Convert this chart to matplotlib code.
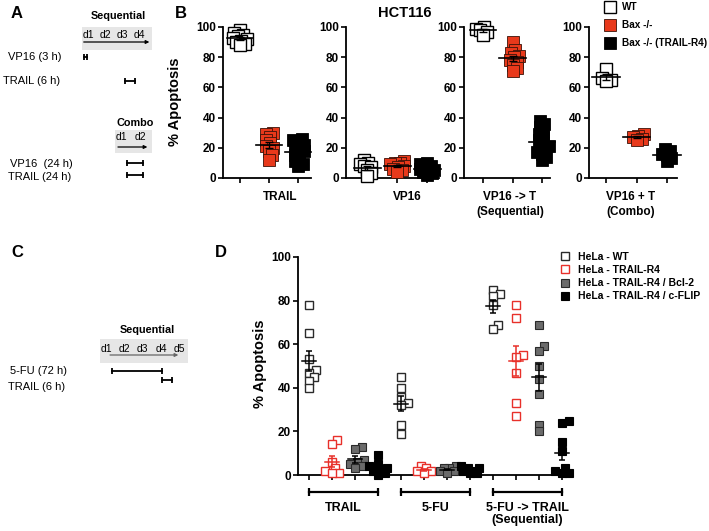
import numpy as np
import matplotlib
matplotlib.use('Agg')
import matplotlib.pyplot as plt
from matplotlib.patches import Rectangle
from matplotlib.lines import Line2D

plt.rcParams['font.family'] = ['Liberation Sans', 'DejaVu Sans']

# ---------------- data: panel B (HCT116) ----------------
b_conditions = ["TRAIL", "VP16", "VP16 -> T\n(Sequential)", "VP16 + T\n(Combo)"]
b_series = ["WT", "Bax -/-", "Bax -/- (TRAIL-R4)"]
b_wt = [[98, 96, 95, 94, 93, 92, 91, 90, 89, 88],
        [12, 10, 9, 8, 7, 5, 3, 1],
        [100, 99, 98, 97, 95],
        [72, 66, 65, 64]]
b_bax = [[30, 29, 27, 25, 23, 21, 20, 18, 15, 12],
         [11, 10, 10, 9, 8, 7, 6, 5, 4],
         [90, 85, 83, 81, 80, 78, 77, 75, 73, 71],
         [29, 28, 27, 26, 25]]
b_bax_r4 = [[26, 25, 24, 22, 20, 19, 18, 17, 15, 13, 11, 9, 8],
            [10, 9, 8, 7, 6, 5, 5, 4, 3, 2],
            [38, 36, 34, 31, 29, 27, 25, 23, 21, 20, 19, 17, 16, 14, 12],
            [19, 18, 16, 15, 13, 11]]
b_yticks = [0, 20, 40, 60, 80, 100]

# ---------------- data: panel D (HeLa) ----------------
d_conditions = ["TRAIL", "5-FU", "5-FU -> TRAIL\n(Sequential)"]
d_series = ["HeLa - WT", "HeLa - TRAIL-R4", "HeLa - TRAIL-R4 / Bcl-2", "HeLa - TRAIL-R4 / c-FLIP"]
d_wt = [[78, 65, 53, 48, 47, 45, 43, 40],
        [45, 40, 36, 33, 32, 23, 19],
        [85, 83, 82, 78, 69, 67]]
d_r4 = [[16, 14, 6, 3, 2, 1, 1],
        [4, 3, 2, 2, 1],
        [78, 72, 55, 54, 47, 33, 27]]
d_bcl2 = [[13, 12, 7, 6, 5, 4, 3],
          [4, 3, 3, 2, 2, 1],
          [69, 59, 57, 50, 44, 37, 23, 20]]
d_flip = [[9, 5, 4, 3, 2, 2, 1, 0],
          [4, 3, 3, 2, 2, 1, 1],
          [25, 24, 15, 11, 3, 2, 1, 1]]
d_yticks = [0, 20, 40, 60, 80, 100]

# ---------------- schematic schedules (days) ----------------
a_seq_days = ["d1", "d2", "d3", "d4"]
a_seq_rows = ["VP16 (3 h)", "TRAIL (6 h)"]
a_seq_start = [0.1, 2.45]
a_seq_end = [0.3, 3.0]
a_combo_days = ["d1", "d2"]
a_combo_rows = ["VP16  (24 h)", "TRAIL (24 h)"]
a_combo_start = [0.65, 0.65]
a_combo_end = [1.51, 1.51]
c_seq_days = ["d1", "d2", "d3", "d4", "d5"]
c_seq_rows = ["5-FU (72 h)", "TRAIL (6 h)"]
c_seq_start = [0.68, 3.55]
c_seq_end = [3.5, 4.1]

W, H = 709, 531
fig = plt.figure(figsize=(W / 100, H / 100), dpi=100)


def rect(x0, y0, x1, y1):
    return [x0 / W, 1 - y1 / H, (x1 - x0) / W, (y1 - y0) / H]


def ftext(px, py, s, **kw):
    return fig.text(px / W, 1 - py / H, s, **kw)


def swarm(vals, ppx, ppy, dmin, max_off, step=1.0):
    vals = np.asarray(vals, float)
    order = np.argsort(vals)
    placed = []
    offs = np.zeros(len(vals))
    nmax = int(2 * max_off / step) + 1
    for i in order:
        yp = vals[i] * ppy
        best, bestd = 0.0, -1.0
        for k in range(nmax):
            c = ((k + 1) // 2) * step * (1 if k % 2 == 1 else -1)
            if abs(c) > max_off:
                continue
            d = min([np.hypot(c - px, yp - py) for px, py in placed], default=1e9)
            if d >= dmin:
                best = c
                break
            if d > bestd:
                best, bestd = c, d
        placed.append((best, yp))
        offs[i] = best / ppx
    return offs


def style_axis(ax, yticks, fs):
    for s in ['top', 'right']:
        ax.spines[s].set_visible(False)
    for s in ['left', 'bottom']:
        ax.spines[s].set_linewidth(1.3)
    ax.set_yticks(yticks)
    ax.tick_params(axis='both', direction='out', length=3.5, width=1.2, pad=1.5,
                   labelsize=fs)
    for lbl in ax.get_yticklabels():
        lbl.set_fontweight('bold')
    ax.set_xticklabels([])


# ---------------- Panel B ----------------
b_layout = [(223, 311, 240, 298), (346, 439, 367, 427), (464, 550, 483, 542), (589, 677, 606, 667)]
b_top, b_bot = 27, 178
b_styles = [dict(mfc='white', mec='black', mew=1.0),
            dict(mfc='#e8391b', mec='#3a1208', mew=0.6),
            dict(mfc='black', mec='black', mew=0.6)]
b_data = [b_wt, b_bax, b_bax_r4]
b_label_x = [280, 407, 510, 631]
for k, (l, r, t1, t3) in enumerate(b_layout):
    ax = fig.add_axes(rect(l, b_top, r, b_bot))
    unit = (t3 - t1) / 2
    ax.set_xlim(1 - (t1 - l) / unit, 3 + (r - t3) / unit)
    ax.set_ylim(0, 100)
    ax.set_xticks([1, 2, 3])
    style_axis(ax, b_yticks, 8.5)
    ppy = (b_bot - b_top) / 100
    for j, (series, st) in enumerate(zip(b_data, b_styles)):
        vals = np.array(series[k], float)
        offs = swarm(vals, unit, ppy, 5.0, 7.0)
        ax.plot(j + 1 + offs, vals, ls='none', marker='s', ms=8, clip_on=False,
                zorder=3, **st)
        m = vals.mean()
        sem = vals.std(ddof=1) / np.sqrt(len(vals))
        ax.plot([j + 1 - 0.45, j + 1 + 0.45], [m, m], color='black', lw=1.2,
                zorder=4, clip_on=False)
        ax.errorbar(j + 1, m, yerr=sem, color='black', lw=1.0, capsize=3,
                    capthick=1.0, zorder=4)
    lines = b_conditions[k].split('\n')
    for i, s in enumerate(lines):
        ftext(b_label_x[k], 197 + 15 * i, s, ha='center', va='center',
              fontsize=8.5, fontweight='bold')

ftext(175, 102, "% Apoptosis", rotation=90, ha='center', va='center',
      fontsize=10.5, fontweight='bold')
ftext(405, 13, "HCT116", ha='center', va='center', fontsize=10.5, fontweight='bold')

b_handles = [Line2D([], [], ls='none', marker='s', ms=8, **st) for st in b_styles]
fig.legend(b_handles, b_series, loc='upper left', bbox_to_anchor=(605 / W, 1 - 2 / H),
           frameon=False, prop={'weight': 'bold', 'size': 7.2}, handlelength=1.0,
           handletextpad=0.7, labelspacing=0.8, borderpad=0, borderaxespad=0)

# ---------------- Panel D ----------------
d_l, d_r, d_t, d_b = 298, 573, 257, 475
axd = fig.add_axes(rect(d_l, d_t, d_r, d_b))
n_pos = len(d_conditions) * len(d_series)
unit_d = 23.0
axd.set_xlim(1 - (309 - d_l) / unit_d, n_pos + (d_r - 562) / unit_d)
axd.set_ylim(0, 100)
axd.set_xticks(np.arange(1, n_pos + 1))
style_axis(axd, d_yticks, 8.5)
d_data = [d_wt, d_r4, d_bcl2, d_flip]
d_styles = [dict(mfc='white', mec='#2a2a2a', mew=1.0),
            dict(mfc='white', mec='#e8302a', mew=1.0),
            dict(mfc='#6b6b6b', mec='#2a2a2a', mew=0.8),
            dict(mfc='black', mec='black', mew=0.8)]
d_linecol = ['black', '#e8302a', 'black', 'black']
ppy_d = (d_b - d_t) / 100
for g in range(len(d_conditions)):
    for j, (series, st) in enumerate(zip(d_data, d_styles)):
        xpos = g * len(d_series) + j + 1
        vals = np.array(series[g], float)
        offs = swarm(vals, unit_d, ppy_d, 6.5, 9.0)
        axd.plot(xpos + offs, vals, ls='none', marker='s', ms=5.5, clip_on=False,
                 zorder=3, **st)
        m = vals.mean()
        sem = vals.std(ddof=1) / np.sqrt(len(vals))
        axd.plot([xpos - 0.3, xpos + 0.3], [m, m], color=d_linecol[j], lw=1.1,
                 zorder=4, clip_on=False)
        axd.errorbar(xpos, m, yerr=sem, color=d_linecol[j], lw=1.1, capsize=2.5,
                     capthick=1.1, zorder=4)
    x0 = g * len(d_series) + 1
    x1 = g * len(d_series) + len(d_series)
    axd.plot([x0, x1], [-7.8, -7.8], color='black', lw=1.6, marker='|', ms=6,
             mew=1.6, clip_on=False)
    axd.text((x0 + x1) / 2, -12.4, d_conditions[g], ha='center', va='top',
             fontsize=9, fontweight='bold', linespacing=1.0, clip_on=False)

ftext(260, 364, "% Apoptosis", rotation=90, ha='center', va='center',
      fontsize=10.5, fontweight='bold')

d_handles = [Line2D([], [], ls='none', marker='s', ms=5.5, **st) for st in d_styles]
fig.legend(d_handles, d_series, loc='upper left', bbox_to_anchor=(560 / W, 1 - 252 / H),
           frameon=False, prop={'weight': 'bold', 'size': 7.5}, handlelength=1.0,
           handletextpad=0.73, labelspacing=0.3, borderpad=0, borderaxespad=0)


# ---------------- schematics ----------------
def schematic(x0, x1, y0, y1, ndays, title, title_x, title_y, box_y, day_labels,
              day_x, day_y, arrow_y, arrow_x, arrow_color, rows, row_px, row_y,
              starts, ends, bar_y):
    ax = fig.add_axes(rect(x0, y0, x1, y1))
    ax.set_xlim(0, ndays)
    ax.set_ylim(y1, y0)
    ax.axis('off')
    ax.add_patch(Rectangle((0, box_y[0]), ndays, box_y[1] - box_y[0],
                           facecolor='#e6e6e6', edgecolor='none', zorder=0))
    ax.text(title_x, title_y, title, ha='center', va='center',
            fontsize=7.8, fontweight='bold')
    for s, xx in zip(day_labels, day_x):
        ax.text(xx, day_y, s, ha='center', va='center', fontsize=7.5, zorder=2)
    ax.annotate('', xy=(arrow_x[1], arrow_y), xytext=(arrow_x[0], arrow_y),
                arrowprops=dict(arrowstyle='-|>', lw=0.9, color=arrow_color,
                                mutation_scale=5, shrinkA=0, shrinkB=0), zorder=1)
    for s, px, ry in zip(rows, row_px, row_y):
        ftext(px, ry, s, ha='left', va='center', fontsize=8)
    for st, en, by in zip(starts, ends, bar_y):
        ax.plot([st, en], [by, by], color='black', lw=1.3, marker='|', ms=5,
                mew=1.3, clip_on=False)
    return ax


schematic(82, 152, 0, 100, 4, "Sequential", 2.1, 16, (27, 50), a_seq_days,
          np.arange(4) * 0.98 + 0.36, 35, 42, (0.1, 3.85), 'black',
          a_seq_rows, [8, 3], [57, 81], a_seq_start, a_seq_end, [57, 81])
schematic(115, 152, 110, 185, 2, "Combo", 1.08, 123, (130, 153), a_combo_days,
          [0.34, 1.4], 137, 147, (0.16, 1.75), 'black',
          a_combo_rows, [10, 8], [164, 177], a_combo_start, a_combo_end, [163, 175])
schematic(100, 188, 320, 395, 5, "Sequential", 2.67, 330, (339, 363), c_seq_days,
          np.arange(5) * 1.04 + 0.34, 349, 355, (0.57, 4.45), '#666666',
          c_seq_rows, [10, 8], [371, 387], c_seq_start, c_seq_end, [371, 380])

# ---------------- panel letters ----------------
for s, px, py in [("A", 17, 13), ("B", 181, 13), ("C", 17, 252), ("D", 221, 252)]:
    ftext(px, py, s, ha='center', va='center', fontsize=12, fontweight='bold')

fig.savefig('out.png', dpi=100)
